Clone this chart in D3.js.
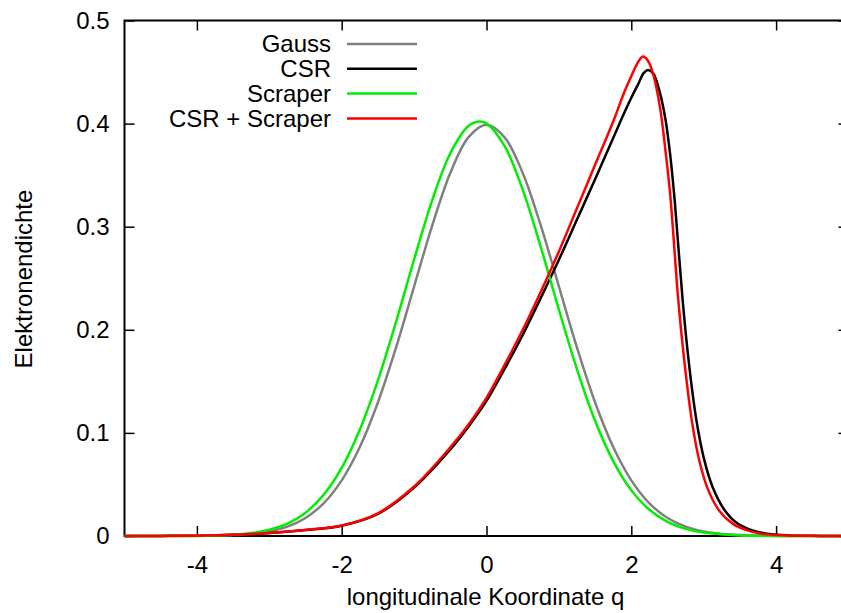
<!DOCTYPE html>
<html>
<head>
<meta charset="utf-8">
<script src="https://cdn.jsdelivr.net/npm/d3@7"></script>
<style>
  body { margin: 0; background: #fff; }
  svg { display: block; }
  text { font-family: "Liberation Sans", Arial, sans-serif; font-size: 24px; fill: #000; }
</style>
</head>
<body>
<div id="chart"></div>
<script>
// values
const qGauss = [-5, -4.5, -4, -3.5, -3.25, -3, -2.75, -2.5, -2.25, -2, -1.75, -1.5, -1.25, -1, -0.75, -0.5, -0.25, 0,
                0.25, 0.5, 0.75, 1, 1.25, 1.5, 1.75, 2, 2.25, 2.5, 2.75, 3, 3.25, 3.5, 4, 4.5, 5];
const gauss = [0, 0, 0.0001, 0.0009, 0.002, 0.0044, 0.0091, 0.0175, 0.0317, 0.054, 0.0863, 0.1295, 0.1826, 0.242, 0.3011, 0.3521, 0.3867, 0.3989,
               0.3867, 0.3521, 0.3011, 0.242, 0.1826, 0.1295, 0.0863, 0.054, 0.0317, 0.0175, 0.0091, 0.0044, 0.002, 0.0009, 0.0001, 0, 0];

const qScraper = [-5, -4.5, -4, -3.5, -3.25, -3, -2.75, -2.5, -2.25, -2, -1.75, -1.5, -1.25, -1, -0.75, -0.5, -0.25, -0.1, 0,
                  0.25, 0.5, 0.75, 1, 1.25, 1.5, 1.75, 2, 2.25, 2.5, 2.75, 3, 3.5, 4, 4.5, 5];
const scraper = [0, 0, 0.0002, 0.0012, 0.0028, 0.006, 0.0119, 0.0226, 0.0399, 0.0661, 0.1031, 0.1509, 0.2075, 0.2682, 0.3256, 0.3712, 0.3977, 0.402, 0.4002,
                 0.3782, 0.3359, 0.2802, 0.2196, 0.1617, 0.1118, 0.0727, 0.0444, 0.0254, 0.0137, 0.0069, 0.0033, 0.0006, 0.0001, 0, 0];

const qCsr = [-5, -4.5, -4, -3.5, -3, -2.5, -2, -1.5, -1, -0.5, -0.25, 0, 0.25, 0.5, 0.75, 1, 1.25, 1.5, 1.75, 1.9, 2, 2.1, 2.17, 2.23, 2.3,
              2.38, 2.47, 2.54, 2.6, 2.71, 2.8, 2.9, 3, 3.12, 3.28, 3.45, 3.63, 3.85, 4.2, 4.6, 5];
const csr = [0, 0.0001, 0.0003, 0.0012, 0.003, 0.0058, 0.01, 0.0215, 0.047, 0.084, 0.106, 0.131, 0.162, 0.195, 0.231, 0.268, 0.307, 0.346, 0.386, 0.41, 0.425, 0.439, 0.449, 0.452, 0.449,
             0.434, 0.405, 0.368, 0.325, 0.228, 0.165, 0.112, 0.076, 0.048, 0.026, 0.013, 0.0065, 0.0025, 0.0006, 0.0001, 0];

const qCsrScraper = [-5, -4.5, -4, -3.5, -3, -2.5, -2, -1.5, -1, -0.5, -0.25, 0, 0.25, 0.5, 0.75, 1, 1.25, 1.5, 1.75, 1.9, 2, 2.08, 2.16, 2.23,
                     2.31, 2.4, 2.47, 2.54, 2.65, 2.74, 2.84, 2.94, 3.06, 3.22, 3.4, 3.58, 3.8, 4.15, 4.6, 5];
const csrScraper = [0, 0.0001, 0.0003, 0.0012, 0.003, 0.0059, 0.0102, 0.022, 0.048, 0.086, 0.108, 0.134, 0.166, 0.2, 0.237, 0.276, 0.318, 0.36, 0.402, 0.43, 0.446, 0.458, 0.465, 0.461,
                    0.446, 0.414, 0.375, 0.329, 0.228, 0.165, 0.11, 0.073, 0.045, 0.024, 0.012, 0.006, 0.0022, 0.0005, 0.0001, 0];

const legendNames = ["Gauss", "CSR", "Scraper", "CSR + Scraper"];
const colors = ["#808080", "#000000", "#00ee00", "#ff0000"];
const xTicks = [-4, -2, 0, 2, 4];
const yTicks = [0, 0.1, 0.2, 0.3, 0.4, 0.5];

const series = [
    {name: legendNames[0], q: qGauss, v: gauss},
    {name: legendNames[1], q: qCsr, v: csr},
    {name: legendNames[2], q: qScraper, v: scraper},
    {name: legendNames[3], q: qCsrScraper, v: csrScraper}
];

const width = 841;
const height = 613;
const plot = {left: 124.5, right: 848.5, top: 20.5, bottom: 536};

const svg = d3.select("#chart")
    .append("svg")
    .attr("width", width)
    .attr("height", height);

const x = d3.scaleLinear().domain([-5, 5]).range([plot.left, plot.right]);
const y = d3.scaleLinear().domain([0, 0.5]).range([plot.bottom, plot.top]);

// bottom / top axes
svg.append("g")
    .attr("transform", `translate(0,${plot.bottom})`)
    .call(d3.axisBottom(x).tickValues(xTicks).tickSize(-10).tickPadding(20).tickFormat(d => String(d)));
svg.append("g")
    .attr("transform", `translate(0,${plot.top})`)
    .call(d3.axisTop(x).tickValues(xTicks).tickSize(-10).tickFormat(""));

// left / right axes
svg.append("g")
    .attr("transform", `translate(${plot.left},0)`)
    .call(d3.axisLeft(y).tickValues(yTicks).tickSize(-10).tickPadding(15).tickFormat(d => d === 0 ? "0" : d3.format(".1f")(d)));
svg.append("g")
    .attr("transform", `translate(${plot.right},0)`)
    .call(d3.axisRight(y).tickValues(yTicks).tickSize(-10).tickFormat(""));

svg.selectAll(".domain").remove();
svg.selectAll(".tick line").attr("stroke", "#000").attr("stroke-width", 1.5);
svg.selectAll(".tick text").attr("font-size", 24).attr("font-family", "Liberation Sans, Arial, sans-serif");

// frame
svg.append("rect")
    .attr("x", plot.left)
    .attr("y", plot.top)
    .attr("width", plot.right - plot.left)
    .attr("height", plot.bottom - plot.top)
    .attr("fill", "none")
    .attr("stroke", "#000")
    .attr("stroke-width", 2);

// curves
const line = d3.line()
    .x(d => x(d[0]))
    .y(d => y(Math.max(0, d[1])))
    .curve(d3.curveCatmullRom.alpha(0.5));

series.forEach((s, i) => {
    svg.append("path")
        .datum(s.q.map((q, j) => [q, s.v[j]]))
        .attr("fill", "none")
        .attr("stroke", colors[i])
        .attr("stroke-width", 2.5)
        .attr("d", line);
});

// legend
const legend = svg.append("g");
series.forEach((s, i) => {
    const ly = 44 + i * 24.8;
    legend.append("text")
        .attr("x", 331)
        .attr("y", ly)
        .attr("dy", "0.35em")
        .attr("text-anchor", "end")
        .text(s.name);
    legend.append("line")
        .attr("x1", 347)
        .attr("x2", 417)
        .attr("y1", ly)
        .attr("y2", ly)
        .attr("stroke", colors[i])
        .attr("stroke-width", 2.5);
});

// axis titles
svg.append("text")
    .attr("x", 485.5)
    .attr("y", 605)
    .attr("text-anchor", "middle")
    .text("longitudinale Koordinate q");

svg.append("text")
    .attr("transform", "translate(32,279) rotate(-90)")
    .attr("text-anchor", "middle")
    .text("Elektronendichte");
</script>
</body>
</html>
